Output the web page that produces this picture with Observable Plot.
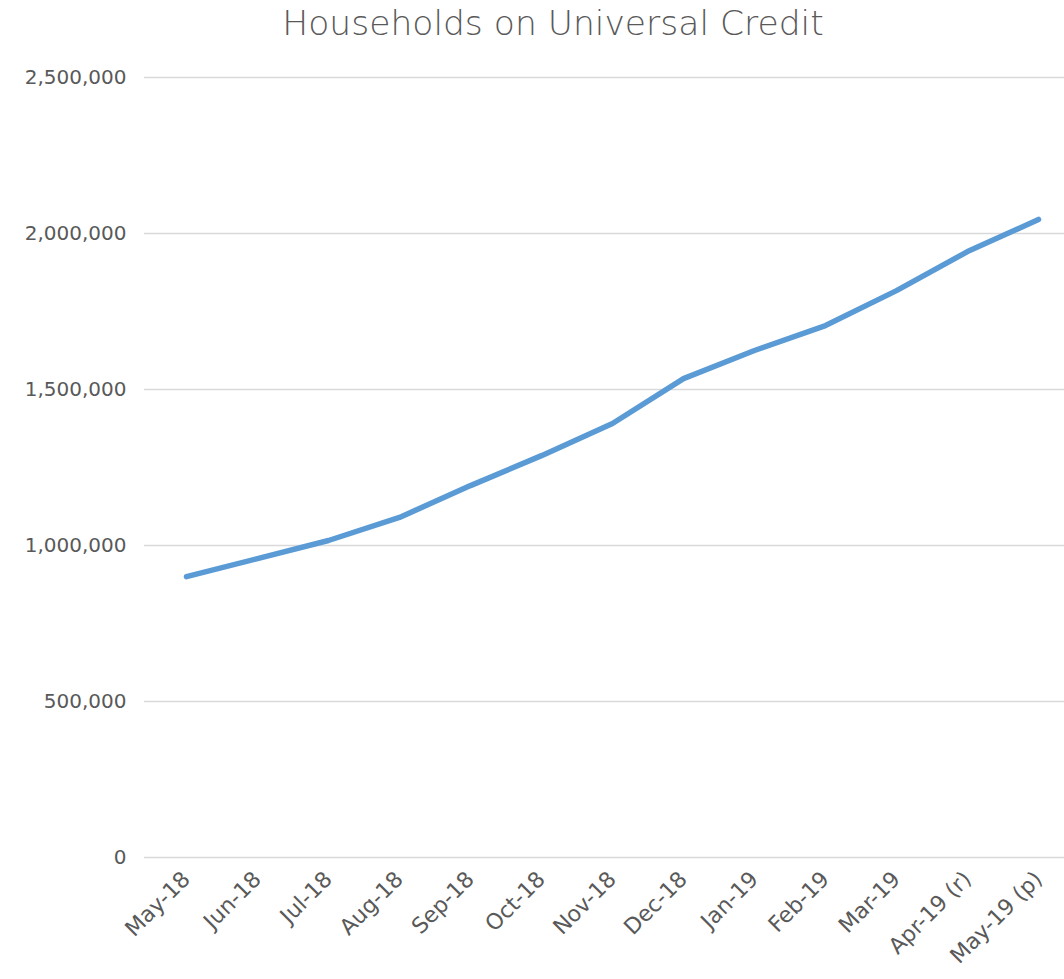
<!DOCTYPE html>
<html>
<head>
<meta charset="utf-8">
<script src="https://cdn.jsdelivr.net/npm/d3@7"></script>
<script src="https://cdn.jsdelivr.net/npm/@observablehq/plot@0.6"></script>
<style>
  body { margin: 0; background: #fff; }
  #title { height: 50px; width: 1064px; font-family: "DejaVu Sans", sans-serif; font-size: 34.5px; color: #595959; font-weight: 300; text-align: left; position: relative; }
  #title span { position: absolute; left: 553px; top: 3px; transform: translateX(-50%); white-space: nowrap; }
</style>
</head>
<body>
<div id="title"><span>Households on Universal Credit</span></div>
<div id="chart"></div>
<script>
const months = ["May-18","Jun-18","Jul-18","Aug-18","Sep-18","Oct-18","Nov-18","Dec-18","Jan-19","Feb-19","Mar-19","Apr-19 (r)","May-19 (p)"];
const households = [900000, 958000, 1016000, 1090000, 1192000, 1288000, 1391000, 1535000, 1625000, 1705000, 1817000, 1942000, 2045000];
const yTicks = [0, 500000, 1000000, 1500000, 2000000, 2500000];

const data = months.map((m, i) => ({month: m, value: households[i]}));
const fmt = d3.format(",");

const chart = Plot.plot({
  width: 1064,
  height: 929,
  marginLeft: 144,
  marginRight: 0,
  marginTop: 27,
  marginBottom: 122,
  style: {fontFamily: "DejaVu Sans, sans-serif", fontSize: "20px", color: "#595959", background: "#fff"},
  x: {type: "point", domain: months, range: [183, 1040], padding: 0},
  y: {domain: [0, 2500000], ticks: yTicks},
  marks: [
    Plot.ruleY(yTicks, {stroke: "#d9d9d9", strokeWidth: 1.5}),
    Plot.axisY({ticks: yTicks, tickFormat: fmt, tickSize: 0, tickPadding: 18, label: null, fontSize: 20, fill: "#595959"}),
    Plot.axisX({tickSize: 0, tickPadding: 18, tickRotate: -45, label: null, fontSize: 22, fill: "#595959"}),
    Plot.line(data, {x: "month", y: "value", stroke: "#5B9BD5", strokeWidth: 5.5, strokeLinecap: "round", strokeLinejoin: "round"})
  ]
});
document.getElementById("chart").appendChild(chart);
</script>
</body>
</html>
